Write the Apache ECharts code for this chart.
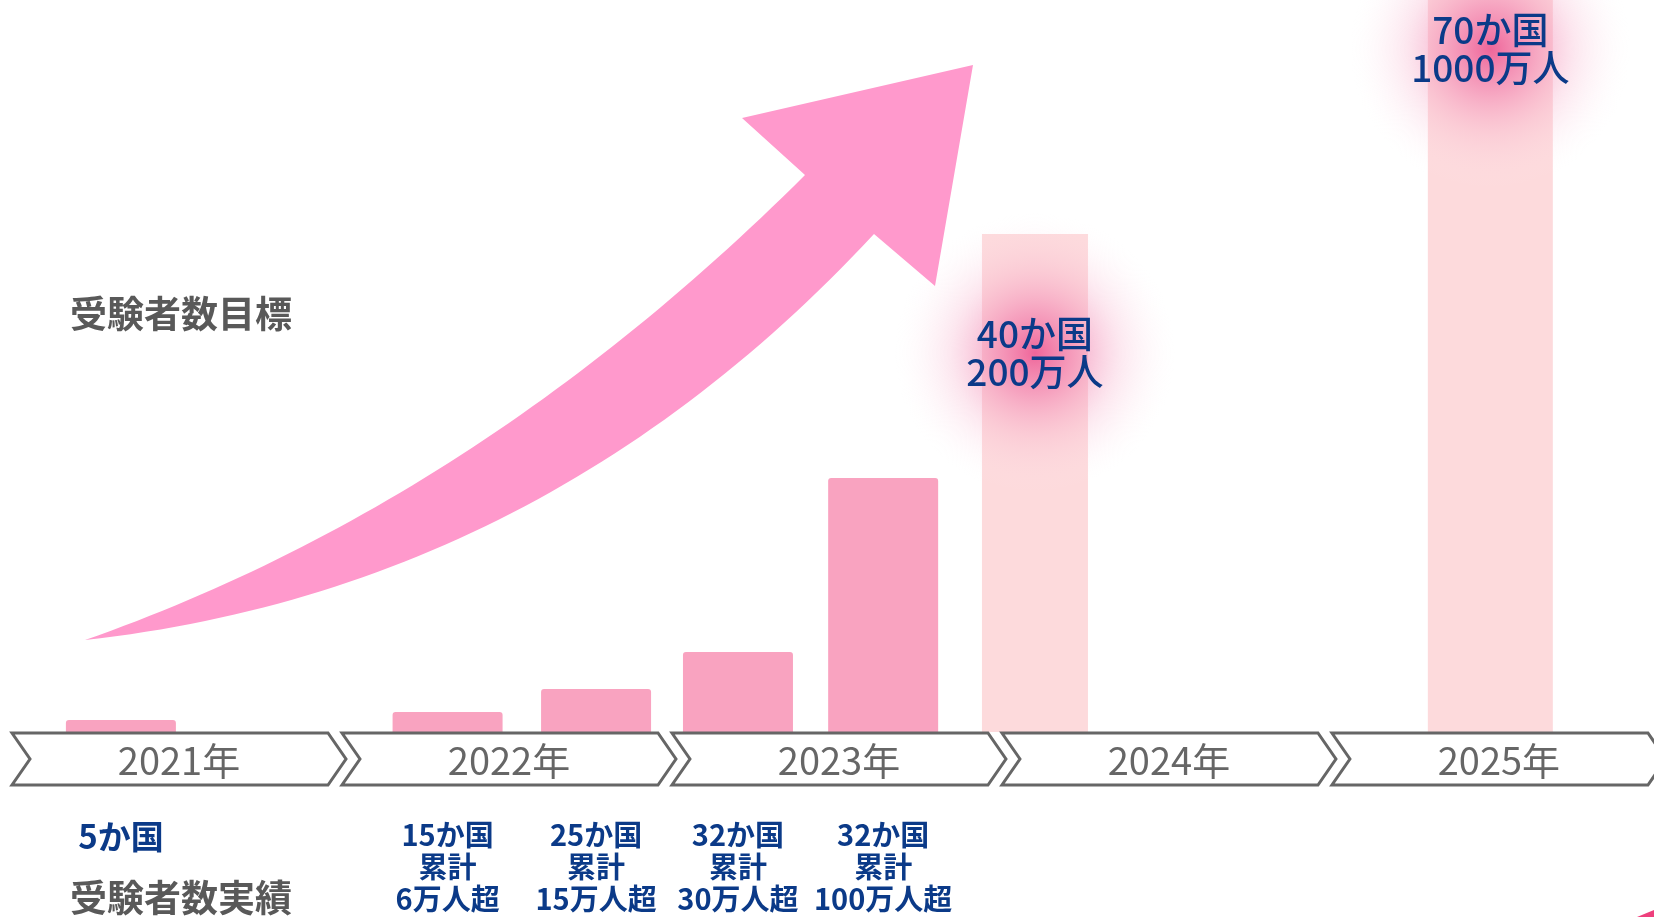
<!DOCTYPE html>
<html lang="ja">

<head>
    <meta charset="UTF-8" />
    <meta name="viewport" content="width=device-width, initial-scale=1.0" />
    <title>受験者数</title>
    <script src="https://cdn.jsdelivr.net/npm/echarts@6/dist/echarts.min.js"></script>
</head>
<style>
    * {
        margin: 0;
        padding: 0;
    }

    #main {
        width: 1654px;
        height: 917px;
        background: #fff;
    }
</style>

<body>
    <div id="main"></div>
</body>
<script>
    // 年（帯）
    const years = [2021, 2022, 2023, 2024, 2025];
    const yearLabels = ["2021年", "2022年", "2023年", "2024年", "2025年"];

    // 実績（位置は年の小数、高さは図から読んだ値）
    const actualX = [2021.33, 2022.32, 2022.77, 2023.2, 2023.64];
    const actualH = [12, 20, 43, 80, 254];
    const actualLabels = [
        "5か国",
        "15か国\n累計\n6万人超",
        "25か国\n累計\n15万人超",
        "32か国\n累計\n30万人超",
        "32か国\n累計\n100万人超",
    ];

    // 目標
    const targetX = [2024.1, 2025.48];
    const targetH = [498, 732];
    const targetLabels = ["40か国\n200万人", "70か国\n1000万人"];

    const FONT = '"Noto Sans CJK JP", "Noto Sans", sans-serif';
    const NAVY = "#0b3a88";

    var myChart = echarts.init(document.getElementById("main"));

    //実績の棒
    function renderActual(params, api) {
        let i = params.dataIndex;
        let top = api.coord([api.value(0), api.value(1)]);
        let base = api.coord([api.value(0), 0]);
        let w = 110;
        let single = actualLabels[i].indexOf("\n") < 0;
        return {
            type: "group",
            children: [
                {
                    type: "rect",
                    shape: { x: top[0] - w / 2, y: top[1], width: w, height: base[1] - top[1], r: [3, 3, 0, 0] },
                    style: { fill: "#f9a3c0" },
                },
                {
                    type: "text",
                    style: {
                        text: actualLabels[i],
                        x: top[0],
                        y: base[1] + (single ? 88 : 87),
                        align: "center",
                        verticalAlign: "top",
                        lineHeight: 32,
                        fill: NAVY,
                        font: "bold " + (single ? 33 : 29) + "px " + FONT,
                    },
                },
            ],
        };
    }

    //目標の棒（グロー付き）
    const targetWidth = [106, 125];
    const targetLabelDrop = [119, 49];
    function renderTarget(params, api) {
        let i = params.dataIndex;
        let top = api.coord([api.value(0), api.value(1)]);
        let base = api.coord([api.value(0), 0]);
        let w = targetWidth[i];
        let cy = top[1] + targetLabelDrop[i];
        return {
            type: "group",
            children: [
                {
                    type: "rect",
                    shape: { x: top[0] - w / 2, y: top[1], width: w, height: base[1] - top[1] },
                    style: { fill: "#fddadc" },
                },
                {
                    type: "circle",
                    shape: { cx: top[0], cy: cy, r: 140 },
                    style: {
                        fill: {
                            type: "radial", x: 0.5, y: 0.5, r: 0.5,
                            colorStops: [
                                { offset: 0, color: "rgba(238,95,150,0.95)" },
                                { offset: 0.3, color: "rgba(241,125,172,0.6)" },
                                { offset: 0.6, color: "rgba(246,168,198,0.28)" },
                                { offset: 1, color: "rgba(255,240,245,0)" },
                            ],
                        },
                    },
                },
                {
                    type: "text",
                    style: {
                        text: targetLabels[i],
                        x: top[0],
                        y: cy,
                        align: "center",
                        verticalAlign: "middle",
                        lineHeight: 38,
                        fill: NAVY,
                        font: "500 37px " + FONT,
                    },
                },
            ],
        };
    }

    //年の矢羽
    function renderYear(params, api) {
        let i = params.dataIndex;
        let p = api.coord([api.value(0), 0]);
        let x = p[0];
        let y = p[1] + 1;
        return {
            type: "group",
            children: [
                {
                    type: "polygon",
                    shape: {
                        points: [
                            [x, y], [x + 316, y], [x + 334, y + 26],
                            [x + 316, y + 52], [x, y + 52], [x + 18, y + 26],
                        ],
                    },
                    style: { fill: "#fff", stroke: "#666", lineWidth: 3 },
                },
                {
                    type: "text",
                    style: {
                        text: yearLabels[i],
                        x: x + 167,
                        y: y + 28,
                        align: "center",
                        verticalAlign: "middle",
                        fill: "#666",
                        font: "38px " + FONT,
                    },
                },
            ],
        };
    }

    // 矢印の輪郭（二次ベジェを点列にする）
    function quad(p0, c, p1, n) {
        let pts = [];
        for (let k = 0; k <= n; k++) {
            let t = k / n;
            let a = (1 - t) * (1 - t), b = 2 * (1 - t) * t, d = t * t;
            pts.push([a * p0[0] + b * c[0] + d * p1[0], a * p0[1] + b * c[1] + d * p1[1]]);
        }
        return pts;
    }
    let arrowPts = quad([85, 640], [476, 503], [805, 175], 60)
        .concat([[742, 118], [973, 65], [935, 286]])
        .concat(quad([874, 234], [544, 589], [85, 640], 60));

    var option = {
        animation: false,
        grid: { left: 12, right: 0, top: 0, bottom: 185 },
        xAxis: { type: "value", min: 2021, max: 2025.976, show: false },
        yAxis: { type: "value", min: 0, max: 732, show: false },
        graphic: [
            {
                type: "polygon",
                z: 10,
                shape: { points: arrowPts },
                style: { fill: "#ff99cc" },
            },
            {
                type: "text",
                left: 70,
                top: 295,
                style: { text: "受験者数目標", fill: "#595959", font: "bold 37px " + FONT },
            },
            {
                type: "text",
                left: 70,
                top: 879,
                style: { text: "受験者数実績", fill: "#595959", font: "bold 37px " + FONT },
            },
            {
                type: "polygon",
                shape: { points: [[1637, 917], [1654, 910], [1654, 917]] },
                style: { fill: "#ee3f7c" },
            },
        ],
        series: [
            {
                type: "custom",
                renderItem: renderActual,
                data: actualX.map((x, i) => [x, actualH[i]]),
                z: 2,
            },
            {
                type: "custom",
                renderItem: renderTarget,
                data: targetX.map((x, i) => [x, targetH[i]]),
                z: 2,
            },
            {
                type: "custom",
                renderItem: renderYear,
                data: years.map((y) => [y]),
                z: 3,
            },
        ],
    };
    myChart.setOption(option);
</script>

</html>
